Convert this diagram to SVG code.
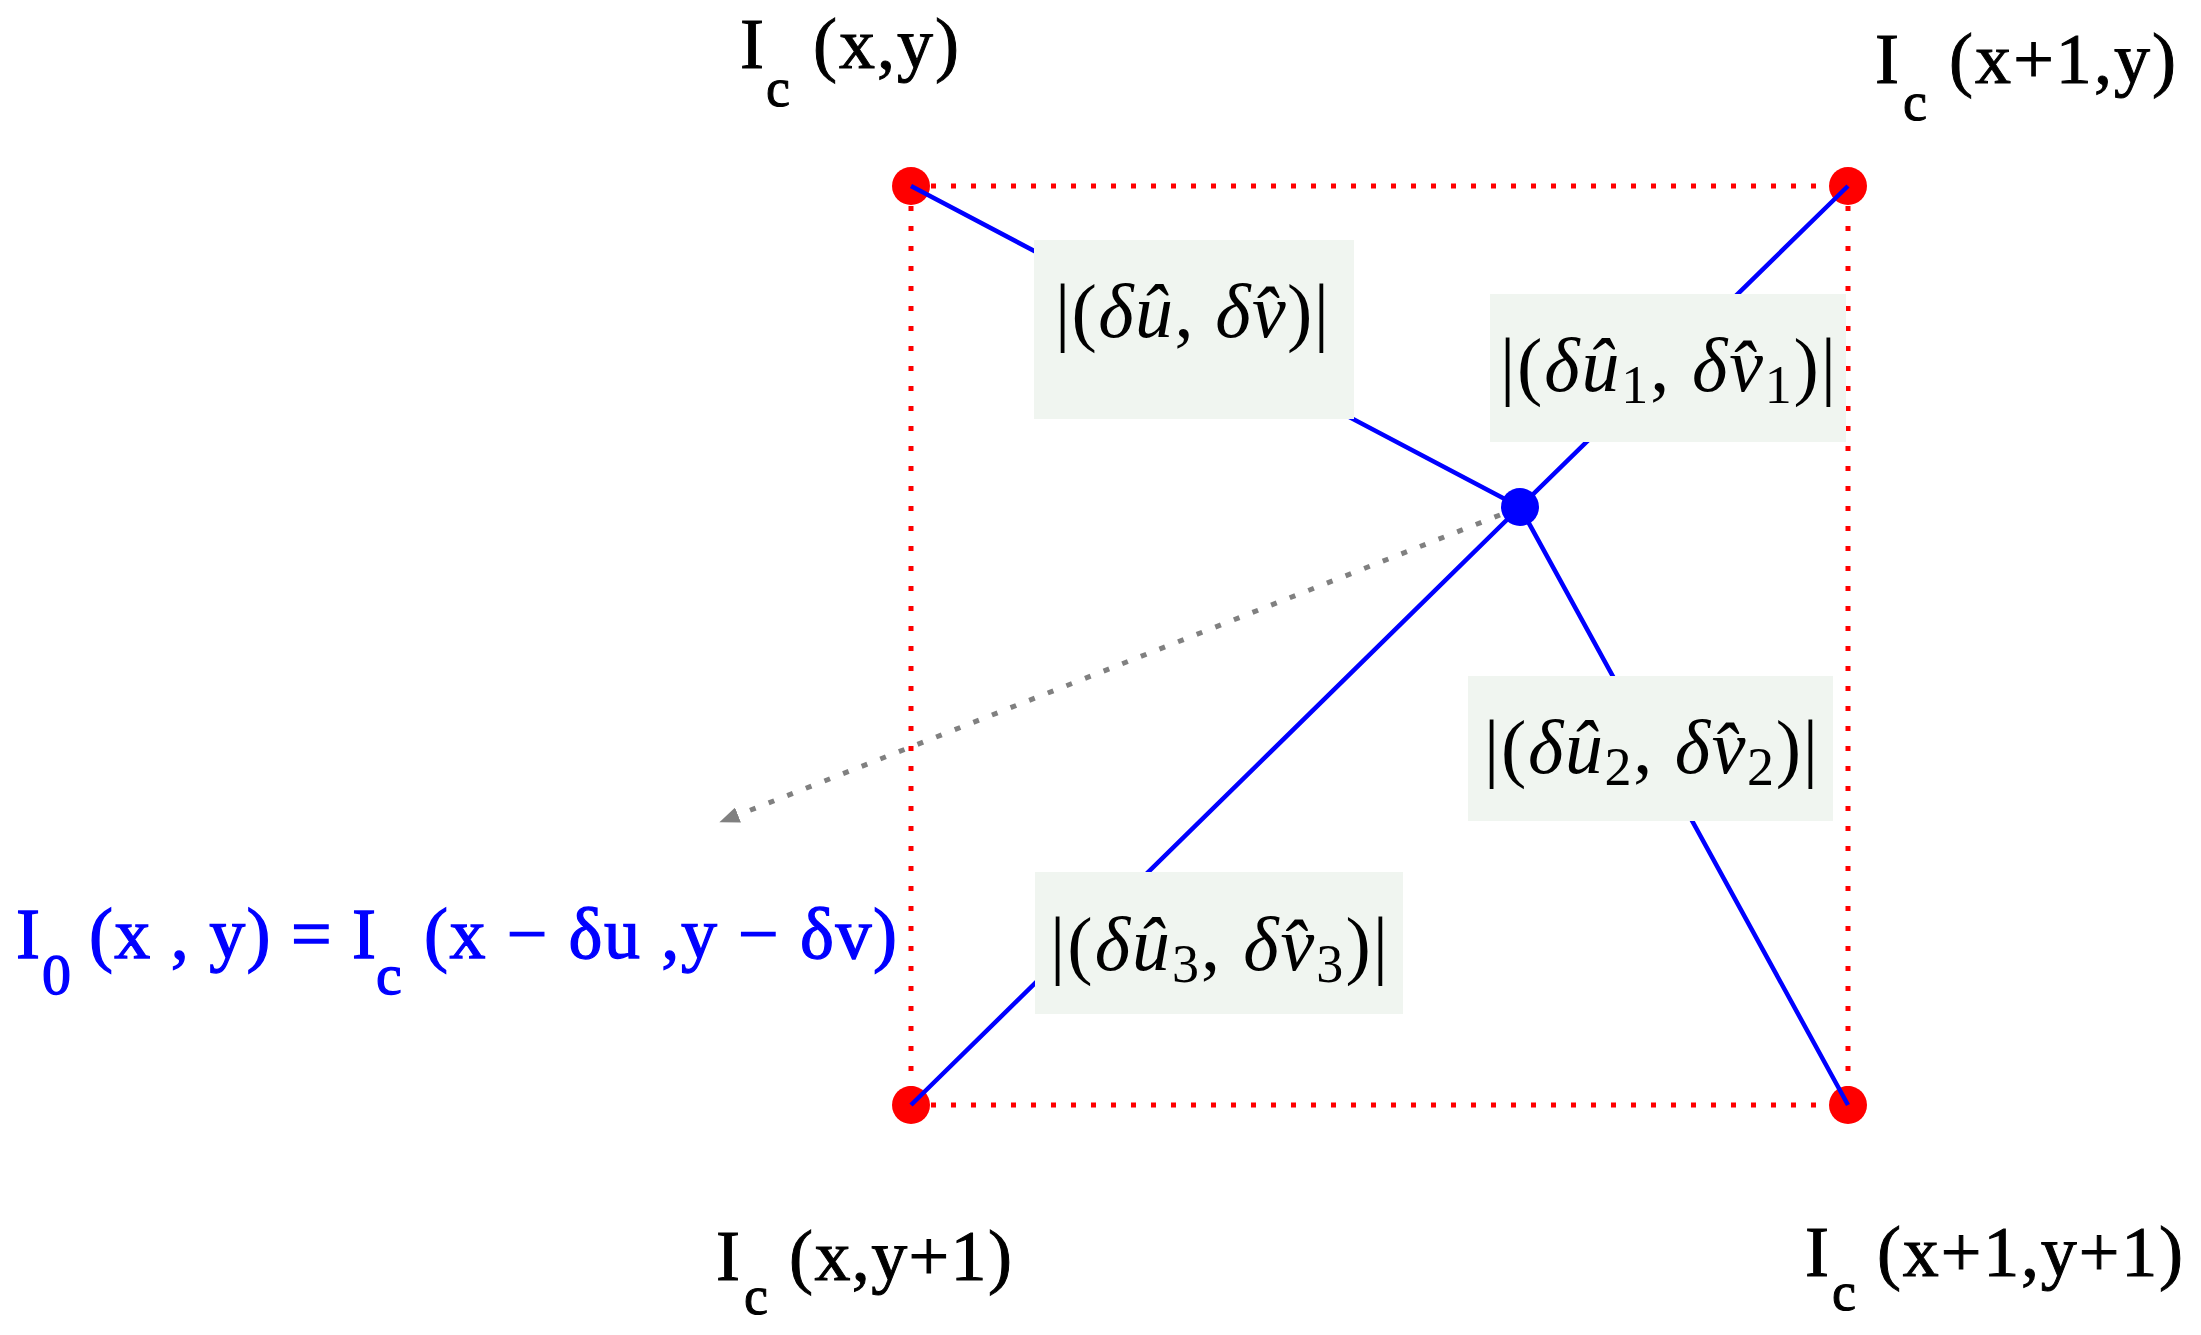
<svg xmlns="http://www.w3.org/2000/svg" width="2201" height="1335" viewBox="0 0 2201 1335">
<defs>
<style>
.grid{stroke:#ff0000;stroke-width:5;stroke-dasharray:5 15;fill:none}
.flow{stroke:#0000ff;stroke-width:4.5;fill:none}
.shift{stroke:#808080;stroke-width:5;stroke-dasharray:6 14;fill:none}
.pix{fill:#ff0000}
.ctr{fill:#0000ff}
.box{fill:#f0f5f0}
.lbl{font-family:"Liberation Serif","Times New Roman",serif;font-size:72px;fill:#000;stroke:#000;stroke-width:1}
.sub{font-size:54px}
.eq{font-family:"Liberation Serif","Times New Roman",serif;font-size:72px;fill:#0000ff;stroke:#0000ff;stroke-width:1.3}
.eqs{font-size:58px}
.m{font-family:"Liberation Serif","Times New Roman",serif;font-size:76px;fill:#000}
.i{font-style:italic}
.ms{font-size:54px}
</style>
<marker id="ah" markerUnits="userSpaceOnUse" markerWidth="20" markerHeight="16" refX="0" refY="8" orient="auto" viewBox="0 0 20 16">
<path d="M0,0 L20,8 L0,16 z" fill="#808080"/>
</marker>
</defs>
<rect width="2201" height="1335" fill="#ffffff"/>
<g id="connectors">
<path class="grid" d="M931,186 H1848 M1848,206 V1105 M911,206 V1105 M931,1105 H1848"/>
<path class="shift" d="M1500,515 L738,815" marker-end="url(#ah)"/>
</g>
<g id="node-p00"><circle class="pix" cx="911" cy="186" r="19"/>
<text class="lbl"><tspan x="740" y="68">I</tspan><tspan class="sub" x="766" y="106">c</tspan><tspan x="813" y="68" textLength="146">(x,y)</tspan></text></g>
<g id="node-p10"><circle class="pix" cx="1848" cy="186" r="19"/>
<text class="lbl"><tspan x="1875" y="83">I</tspan><tspan class="sub" x="1903" y="120">c</tspan><tspan x="1949" y="83" textLength="227">(x+1,y)</tspan></text></g>
<g id="node-p01"><circle class="pix" cx="911" cy="1105" r="19"/>
<text class="lbl"><tspan x="716" y="1280">I</tspan><tspan class="sub" x="744" y="1314">c</tspan><tspan x="789" y="1280" textLength="223">(x,y+1)</tspan></text></g>
<g id="node-p11"><circle class="pix" cx="1848" cy="1105" r="19"/>
<text class="lbl"><tspan x="1805" y="1276">I</tspan><tspan class="sub" x="1832" y="1310">c</tspan><tspan x="1877" y="1276" textLength="306">(x+1,y+1)</tspan></text></g>
<g id="node-center"><circle class="ctr" cx="1520" cy="507" r="19"/></g>
<g id="flow-lines">
<path class="flow" d="M911,186 L1520,507 M1848,186 L1520,507 M1520,507 L911,1105 M1520,507 L1848,1105"/>
</g>
<g id="edge-labels">
<g id="label-0"><rect class="box" x="1034" y="240" width="320" height="179"/>
<text class="m" x="1055" y="337" textLength="274">|(<tspan class="i">δû</tspan>, <tspan class="i">δv̂</tspan>)|</text></g>
<g id="label-1"><rect class="box" x="1490" y="294" width="356" height="148"/>
<text class="m" x="1500" y="391" textLength="336">|(<tspan class="i">δû</tspan><tspan class="ms" dy="12">1</tspan><tspan dy="-12">, </tspan><tspan class="i">δv̂</tspan><tspan class="ms" dy="12">1</tspan><tspan dy="-12">)|</tspan></text></g>
<g id="label-2"><rect class="box" x="1468" y="676" width="365" height="145"/>
<text class="m" x="1484" y="773" textLength="334">|(<tspan class="i">δû</tspan><tspan class="ms" dy="12">2</tspan><tspan dy="-12">, </tspan><tspan class="i">δv̂</tspan><tspan class="ms" dy="12">2</tspan><tspan dy="-12">)|</tspan></text></g>
<g id="label-3"><rect class="box" x="1035" y="872" width="368" height="142"/>
<text class="m" x="1050" y="970" textLength="338">|(<tspan class="i">δû</tspan><tspan class="ms" dy="12">3</tspan><tspan dy="-12">, </tspan><tspan class="i">δv̂</tspan><tspan class="ms" dy="12">3</tspan><tspan dy="-12">)|</tspan></text></g>
</g>
<g id="node-equation">
<text class="eq"><tspan x="16" y="958">I</tspan><tspan class="eqs" x="42" y="994">0</tspan><tspan x="89" y="958" textLength="287">(x , y) = I</tspan><tspan class="eqs" x="376" y="994">c</tspan><tspan x="424" y="958" textLength="473">(x − δu ,y − δv)</tspan></text>
</g>
</svg>
